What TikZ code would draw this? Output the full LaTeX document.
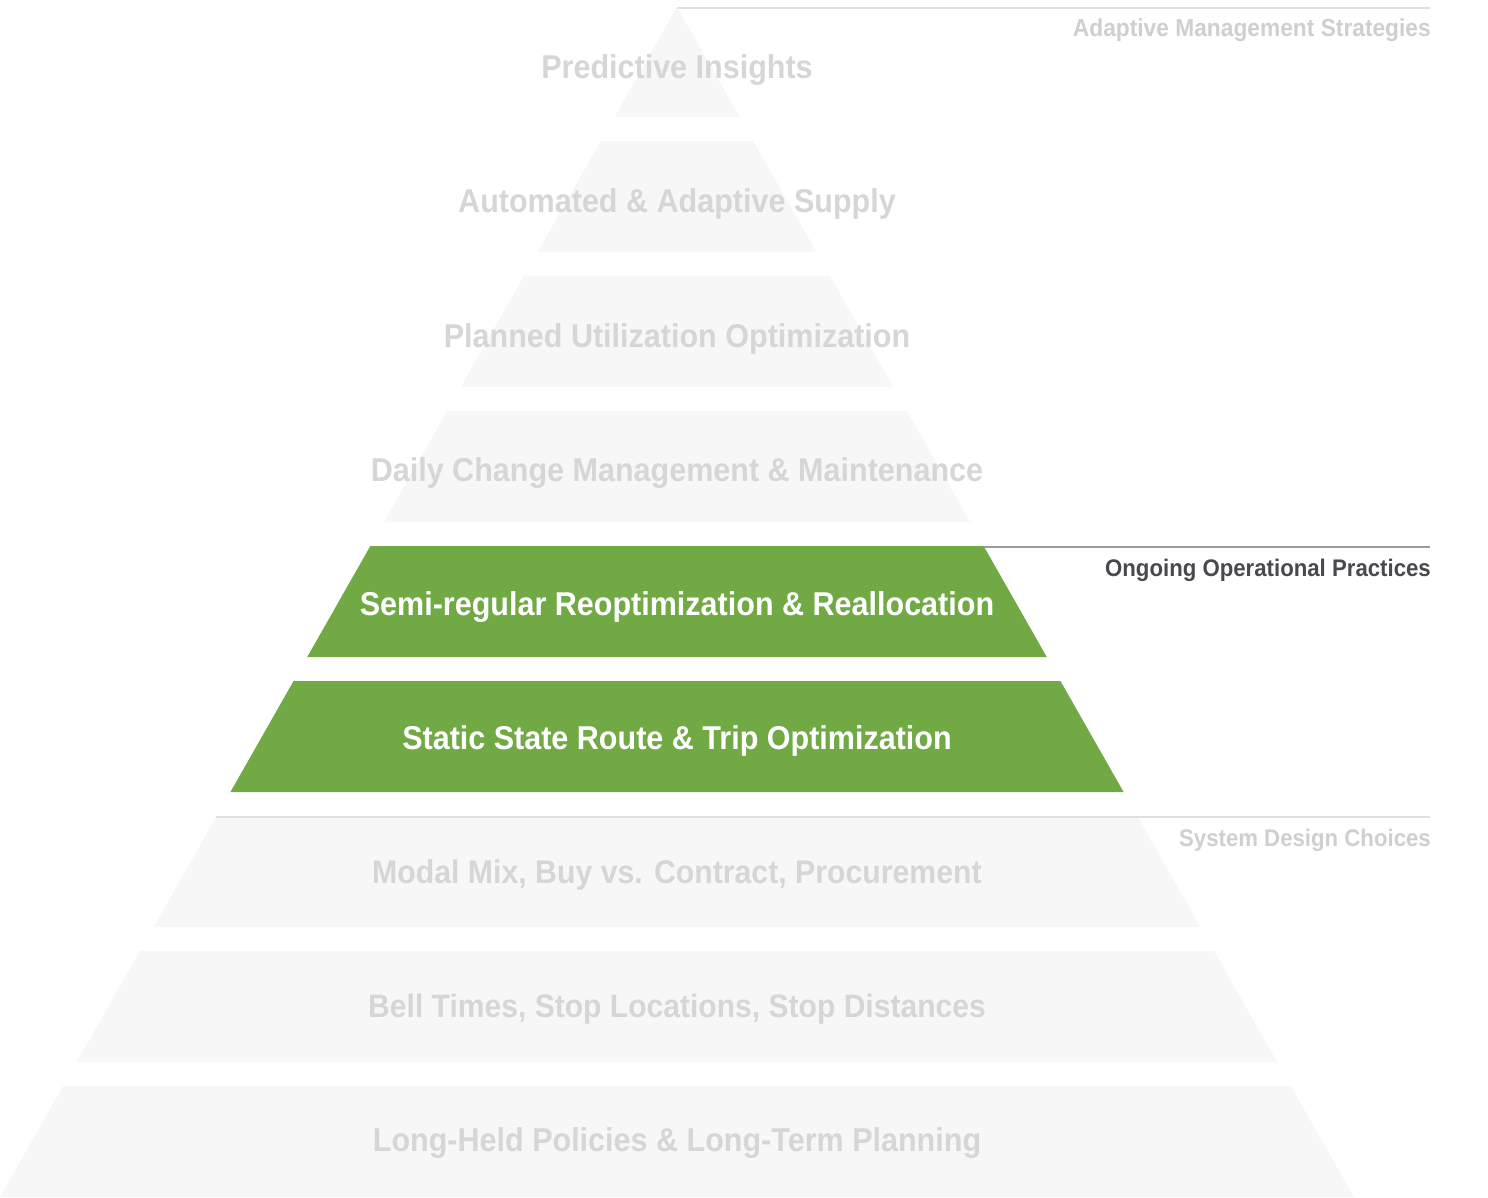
\documentclass[tikz,border=0pt]{standalone}
\usepackage{fontspec}
\setmainfont{Liberation Sans}[FakeStretch=0.925]
\definecolor{fadefill}{HTML}{F7F7F7}
\definecolor{fadetext}{HTML}{D6D6D6}
\definecolor{fadelabel}{HTML}{CFCFCF}
\definecolor{fadeline}{HTML}{E0E0E0}
\definecolor{darkline}{HTML}{9A9A9A}
\definecolor{darklabel}{HTML}{48484E}
\definecolor{leafgreen}{HTML}{71AA45}
\tikzset{
  fadelayer/.style={fill=fadefill, draw=none},
  greenlayer/.style={fill=leafgreen, draw=none},
  fadetitle/.style={font=\bfseries\fontsize{33}{36}\selectfont, text=fadetext, anchor=base, inner sep=0pt},
  greentitle/.style={font=\bfseries\fontsize{33}{36}\selectfont, text=white, anchor=base, inner sep=0pt},
  sidelabel/.style={font=\bfseries\fontsize{24}{27}\selectfont, anchor=base east, inner sep=0pt},
  guideline/.style={line width=2pt}
}
\begin{document}
\begin{tikzpicture}[x=1pt,y=-1pt]
\useasboundingbox (0,0) rectangle (1488,1198);
\def\cx{677}
\def\sl{0.5689}
% apex layer
\fill[fadelayer] (\cx,7) -- ({\cx+\sl*110},117) -- ({\cx-\sl*110},117) -- cycle;
% other layers
\foreach \t/\sty in {141/fadelayer,276/fadelayer,411/fadelayer,546/greenlayer,681/greenlayer,816/fadelayer,951/fadelayer,1086/fadelayer}{
  \fill[\sty] ({\cx-\sl*(\t-7)},\t) -- ({\cx+\sl*(\t-7)},\t) -- ({\cx+\sl*(\t+111-7)},\t+111) -- ({\cx-\sl*(\t+111-7)},\t+111) -- cycle;
}
% guide lines
\coordinate (apex) at (\cx,8);
\coordinate (e1) at (1430,8);
\coordinate (g5) at ({\cx+\sl*(547-7)},547);
\coordinate (e2) at (1430,547);
\coordinate (g7) at ({\cx-\sl*(817-7)},817);
\coordinate (e3) at (1430,817);
\draw[guideline, fadeline] (apex) -- (e1);
\draw[guideline, darkline, line width=1.6pt] (g5) -- (e2);
\draw[guideline, fadeline] (g7) -- (e3);
% titles
\node[fadetitle] (t1) at (\cx,79) {Predictive Insights};
\node[fadetitle] (t2) at (\cx,213) {Automated \& Adaptive Supply};
\node[fadetitle] (t3) at (\cx,347) {Planned Utilization Optimization};
\node[fadetitle] (t4) at (\cx,481) {Daily Change Management \& Maintenance};
\node[greentitle] (t5) at (\cx,615) {Semi-regular Reoptimization \& Reallocation};
\node[greentitle] (t6) at (\cx,749) {Static State Route \& Trip Optimization};
\node[fadetitle, font=\bfseries\fontsize{32.7}{36}\selectfont] (t7) at (\cx,883) {Modal Mix, Buy vs. Contract, Procurement};
\node[fadetitle, font=\bfseries\fontsize{32.5}{36}\selectfont] (t8) at (\cx,1017) {Bell Times, Stop Locations, Stop Distances};
\node[fadetitle] (t9) at (\cx,1151) {Long-Held Policies \& Long-Term Planning};
% side labels
\node[sidelabel, text=fadelabel, font=\bfseries\fontsize{24.6}{27}\selectfont] (s1) at (1431,36.5) {Adaptive Management Strategies};
\node[sidelabel, text=darklabel] (s2) at (1431,576.5) {Ongoing Operational Practices};
\node[sidelabel, text=fadelabel] (s3) at (1431,846) {System Design Choices};
\end{tikzpicture}
\end{document}
